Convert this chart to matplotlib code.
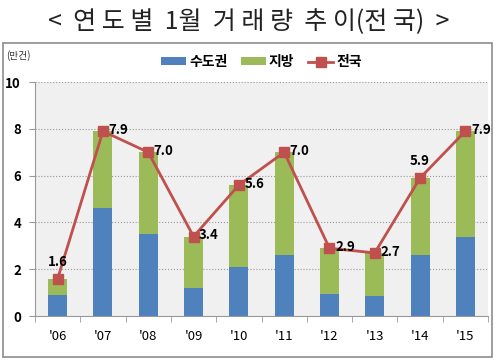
import matplotlib.pyplot as plt
from matplotlib.patches import Rectangle
import numpy as np

plt.rcParams['font.family'] = ['Noto Sans CJK KR', 'DejaVu Sans']

years = ["'06", "'07", "'08", "'09", "'10", "'11", "'12", "'13", "'14", "'15"]
metro = [0.9, 4.6, 3.5, 1.2, 2.1, 2.6, 0.95, 0.85, 2.6, 3.4]
total = [1.6, 7.9, 7.0, 3.4, 5.6, 7.0, 2.9, 2.7, 5.9, 7.9]
local = [t - m for t, m in zip(total, metro)]
labels = ['1.6', '7.9', '7.0', '3.4', '5.6', '7.0', '2.9', '2.7', '5.9', '7.9']

blue = '#4F81BD'
green = '#9BBB59'
red = '#C0504D'

fig = plt.figure(figsize=(5, 3.6), dpi=100)
fig.patch.set_facecolor('white')

# outer chart frame
fig.patches.append(Rectangle((0.006, 0.008), 0.978, 0.872, transform=fig.transFigure,
                             fill=False, edgecolor='#8c8c8c', linewidth=1.2))

fig.text(0.497, 0.94, '<  연 도 별  1월  거 래 량  추 이(전 국)  >', ha='center', va='center',
         fontsize=18, fontweight='light', color='#222222')
fig.text(0.012, 0.845, '(만건)', ha='left', va='center', fontsize=7, color='#333333')

ax = fig.add_axes([0.07, 0.122, 0.906, 0.65])
ax.set_facecolor('#f0f0f0')

x = np.arange(len(years))
b1 = ax.bar(x, metro, width=0.42, color=blue, label='수도권', zorder=2)
b2 = ax.bar(x, local, width=0.42, bottom=metro, color=green, label='지방', zorder=2)
l1, = ax.plot(x, total, color=red, linewidth=2, marker='s', markersize=7.5, label='전국', zorder=3)

for i, (v, s) in enumerate(zip(total, labels)):
    if i in (0, 8):
        ax.annotate(s, (i, v), xytext=(0, 7), textcoords='offset points',
                    ha='center', va='bottom', fontsize=9.5, fontweight='bold')
    else:
        ax.annotate(s, (i, v), xytext=(4, 1), textcoords='offset points',
                    ha='left', va='center', fontsize=9.5, fontweight='bold')

ax.set_xlim(-0.5, 9.5)
ax.set_ylim(0, 10)
ax.set_yticks([0, 2, 4, 6, 8, 10])
ax.set_yticklabels(['0', '2', '4', '6', '8', '10'], fontweight='bold', fontsize=9.5)
ax.set_xticks(x)
ax.set_xticklabels(years, fontsize=9.5)
ax.set_xticks(np.arange(-0.5, 10, 1), minor=True)
ax.tick_params(axis='x', which='major', length=0, pad=10)
ax.tick_params(axis='x', which='minor', length=4, color='#999999')
ax.tick_params(axis='y', length=4, color='#999999', pad=6)
ax.grid(axis='y', linestyle=':', color='#999999', linewidth=0.8, zorder=0)
for sp in ['top', 'right']:
    ax.spines[sp].set_visible(False)
ax.spines['left'].set_color('#999999')
ax.spines['bottom'].set_color('#999999')

ax.legend([b1, b2, l1], ['수도권', '지방', '전국'], loc='center', bbox_to_anchor=(0.5, 1.085),
          ncol=3, frameon=False, prop={'weight': 'bold', 'size': 10}, handlelength=1.8,
          handleheight=0.5, handletextpad=0.2, columnspacing=1.0)

fig.savefig('out.png', dpi=100)
